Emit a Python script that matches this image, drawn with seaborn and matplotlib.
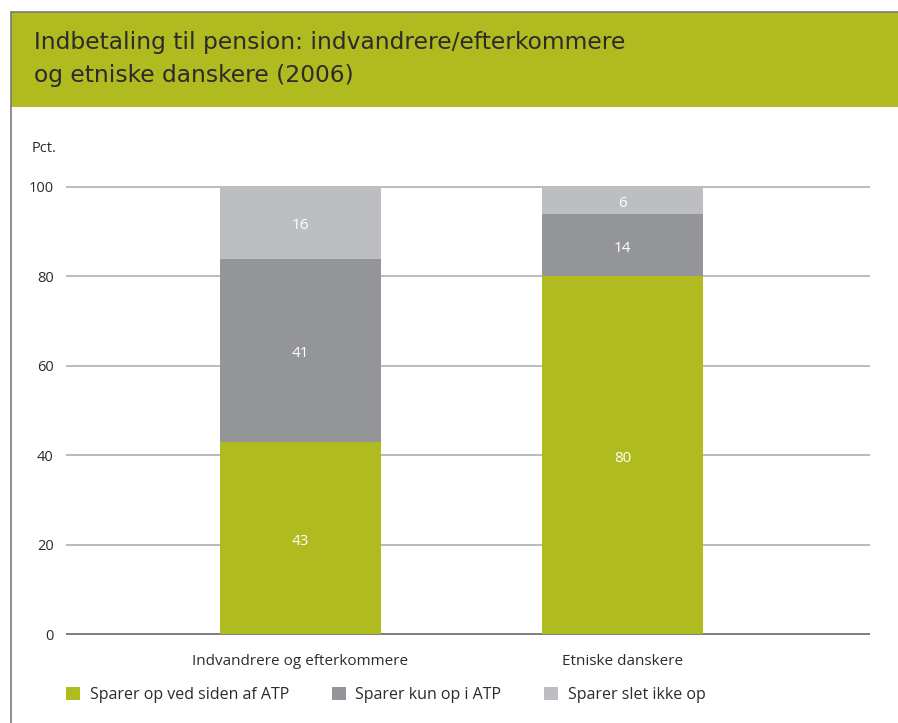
import matplotlib
matplotlib.use("Agg")
import matplotlib.pyplot as plt
import seaborn as sns
import pandas as pd
import numpy as np
from matplotlib.patches import Rectangle

categories = ["Indvandrere og efterkommere", "Etniske danskere"]
series_names = ["Sparer op ved siden af ATP", "Sparer kun op i ATP", "Sparer slet ikke op"]
saver_extra = [43, 80]
saver_atp_only = [41, 14]
no_saving = [16, 6]
yticks = [0, 20, 40, 60, 80, 100]

colors = ["#afbb1f", "#949599", "#bdbec2"]
GREEN = "#afbb1f"
TXT = "#2b2b2b"

sns.set_theme(style="white")
plt.rcParams["font.family"] = ["Open Sans", "DejaVu Sans"]

W, H = 898, 723
fig = plt.figure(figsize=(W / 100, H / 100), dpi=100)

def fx(px):
    return px / W

def fy(py):
    return 1 - py / H

# frame decoration
fig.patches.append(Rectangle((fx(10.5), fy(107)), fx(W) - fx(10.5), fy(12) - fy(107),
                             transform=fig.transFigure, facecolor=GREEN, edgecolor="none", zorder=0))
fig.add_artist(plt.Line2D([fx(10.5), fx(10.5)], [fy(12), 0], transform=fig.transFigure,
                          color="#7a7a7a", lw=1.2))
fig.add_artist(plt.Line2D([fx(10.5), 1], [fy(12), fy(12)], transform=fig.transFigure,
                          color="#7a7a7a", lw=1.2))

title_font = ["DejaVu Sans"]
fig.text(fx(34), fy(49), "Indbetaling til pension: indvandrere/efterkommere",
         fontsize=16.8, color=TXT, ha="left", va="baseline", family=title_font)
fig.text(fx(34), fy(82), "og etniske danskere (2006)",
         fontsize=16.8, color=TXT, ha="left", va="baseline", family=title_font)
fig.text(fx(32), fy(152), "Pct.", fontsize=10.5, color=TXT, ha="left", va="baseline")

# axes: y 0 -> 634px, 100 -> 187px
ppu = (634 - 187) / 100.0
y_lo, y_hi = -1, 101
bottom_px = 634 + ppu * 1
top_px = 187 - ppu * 1
ax = fig.add_axes([fx(66), fy(bottom_px), fx(870) - fx(66), fy(top_px) - fy(bottom_px)])

df = pd.DataFrame({
    "cat": categories,
    "s1": saver_extra,
    "s2": saver_atp_only,
    "s3": no_saving,
})
df["c1"] = df["s1"]
df["c2"] = df["s1"] + df["s2"]
df["c3"] = df["s1"] + df["s2"] + df["s3"]

for col, name, color in [("c3", series_names[2], colors[2]),
                         ("c2", series_names[1], colors[1]),
                         ("c1", series_names[0], colors[0])]:
    sns.barplot(data=df, x="cat", y=col, color=color, width=0.5, saturation=1,
                label=name, ax=ax, zorder=3, edgecolor="none", linewidth=0)

# value labels
for i in range(len(categories)):
    segs = [(0, saver_extra[i]),
            (saver_extra[i], saver_atp_only[i]),
            (saver_extra[i] + saver_atp_only[i], no_saving[i])]
    for b, h in segs:
        ax.text(i, b + h / 2 - 0.7, f"{h}", ha="center", va="center",
                color="white", fontsize=11, zorder=5)

ax.set_xlim(-0.726, 1.767)
ax.set_ylim(y_lo, y_hi)
ax.set_yticks(yticks)
ax.set_yticklabels([str(t) for t in yticks])
ax.set_xlabel("")
ax.set_ylabel("")
for s in ax.spines.values():
    s.set_visible(False)
for t in yticks:
    if t == 0:
        ax.axhline(t, color="#7d7d7d", lw=1.4, zorder=2)
    else:
        ax.axhline(t, color="#a8a8a8", lw=1.1, zorder=2)
ax.tick_params(axis="y", length=0, pad=9, labelsize=10.5, labelcolor=TXT)
ax.tick_params(axis="x", length=0, pad=11, labelsize=11, labelcolor=TXT)
ax.set_facecolor("none")

h, l = ax.get_legend_handles_labels()
order = [l.index(n) for n in series_names]
ax.legend([h[k] for k in order], [l[k] for k in order], ncol=3, frameon=False,
          loc="upper left", bbox_to_anchor=(fx(66), fy(687)), bbox_transform=fig.transFigure,
          borderpad=0, borderaxespad=0, fontsize=11.5, handlelength=0.9, handleheight=0.9,
          handletextpad=0.6, columnspacing=2.65, labelcolor=TXT)

fig.savefig("out.png", dpi=100, facecolor="white")
